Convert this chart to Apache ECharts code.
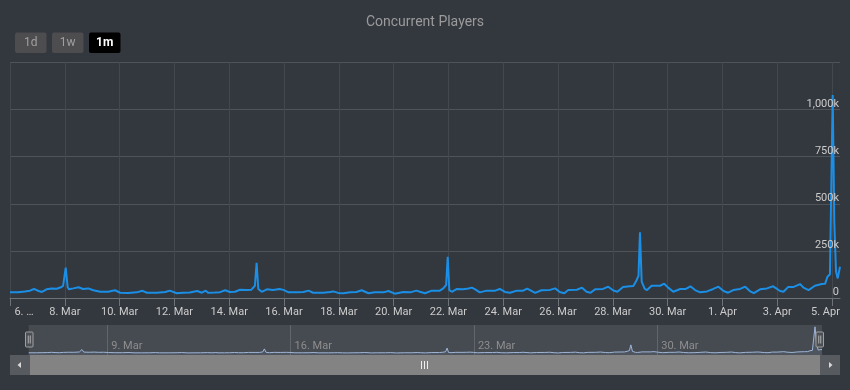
<!DOCTYPE html>
<html><head><meta charset="utf-8">
<script src="https://cdn.jsdelivr.net/npm/echarts@6/dist/echarts.min.js"></script>
<style>html,body{margin:0;padding:0;background:#33373e;}#c{width:850px;height:390px;}</style>
</head><body><div id="c"></div>
<script>
// hours since 6 Mar 00:00, concurrent players in thousands
const players = [[0,30],[7,30],[13,35],[17.5,39],[21,48],[25,37],[28,32],[32,46],[36.5,51],[41,49],[44.5,57],[46.5,64],[48.8,161],[50.5,57],[51.7,46],[55.5,51],[60,57],[64,48],[68.5,51],[73,41],[79,33],[86,33],[92,41],[96.5,28],[103.5,27],[111,30],[116,38],[120,28],[128.5,28],[136,32],[140,39],[146,25],[151.5,28],[157.5,29],[164,37],[168,28],[171.5,39],[173.5,28],[179.5,29],[184,31],[188.5,41],[192.5,32],[197,33],[201.5,44],[207.5,43],[211.5,44],[214.5,65],[216,187],[217.5,48],[220.5,33],[225,46],[230.5,43],[236,48],[239.5,43],[244,30],[251,30],[257,32],[261.5,39],[265.5,28],[274.5,28],[280.5,32],[283,35],[287.5,27],[292,25],[298,30],[303.5,32],[308,41],[314,25],[319.5,30],[327,30],[331.5,37],[337,23],[344.5,32],[350.5,30],[356,39],[359,33],[363.5,25],[369.5,39],[376.5,39],[379.5,51],[382,69],[383.4,219],[384.8,42],[387,33],[391.5,48],[397,46],[401.5,50],[404.5,55],[407.5,46],[411.5,30],[417.5,39],[425,39],[429,48],[433.5,32],[438,28],[444,39],[449.5,39],[453,50],[460,27],[465.5,41],[473,43],[477.5,51],[481.5,32],[485.5,25],[489,42],[496.5,44],[501,55],[505,33],[508.5,28],[512.5,46],[519.5,48],[524,60],[528.5,40],[532,33],[537,58],[543,62],[546,64],[548.5,90],[550.5,118],[551.8,349],[553.3,87],[556,48],[558,42],[562,65],[569.5,65],[573,76],[576.5,55],[581,33],[587,48],[592,48],[596,62],[600,42],[604.5,30],[610.5,35],[616,48],[620.5,60],[625,37],[629,28],[633.5,42],[639.5,48],[644,60],[648,37],[651.5,26],[657,46],[663,51],[668.5,62],[674.5,37],[677.5,33],[681.5,58],[686,58],[692,74],[695,55],[699.5,42],[705,65],[711,74],[714,76],[716,113],[718.2,126],[720.6,1077],[722,405],[723.5,140],[725,104],[727,166]];
const xTickHours = [0,48,96,144,192,240,288,336,384,432,480,528,576,624,672,720];
const xTickLabels = ['6. …','8. Mar','10. Mar','12. Mar','14. Mar','16. Mar','18. Mar','20. Mar','22. Mar','24. Mar','26. Mar','28. Mar','30. Mar','1. Apr','3. Apr','5. Apr'];
const yTicks = [0,250,500,750,1000,1250];
const yTickLabels = ['0','250k','500k','750k','1,000k',''];
const navTickHours = [72,240,408,576];
const navTickLabels = ['9. Mar','16. Mar','23. Mar','30. Mar'];
const rangeButtons = ['1d','1w','1m'];
const selectedButton = '1m';

const FONT = 'Roboto, sans-serif';
const chart = echarts.init(document.getElementById('c'), null, {renderer:'canvas'});

const btnX = [15, 52, 89];
const graphics = [];
rangeButtons.forEach((b, i) => {
  const sel = b === selectedButton;
  graphics.push({type:'rect', shape:{x:btnX[i], y:32.5, width:31.5, height:20.5, r:2}, style:{fill: sel ? '#000000' : '#4d4d4f'}});
  graphics.push({type:'text', style:{text:b, x:btnX[i]+15.75, y:43, align:'center', verticalAlign:'middle', textAlign:'center', textVerticalAlign:'middle', fill: sel ? '#ffffff' : '#a0a0a0', font:(sel?'bold ':'')+'12px '+FONT}});
});
// navigator handles
[[25.5],[816]].forEach(([hx]) => {
  graphics.push({type:'rect', z:100, shape:{x:hx, y:332, width:7.5, height:15, r:1}, style:{fill:'#4b4f56', stroke:'#a0a0a0', lineWidth:1}});
  graphics.push({type:'line', z:101, shape:{x1:hx+2.75, y1:335.5, x2:hx+2.75, y2:343.5}, style:{stroke:'#b0b0b0', lineWidth:1}});
  graphics.push({type:'line', z:101, shape:{x1:hx+4.75, y1:335.5, x2:hx+4.75, y2:343.5}, style:{stroke:'#b0b0b0', lineWidth:1}});
});
// scrollbar
graphics.push({type:'rect', shape:{x:10, y:355, width:20, height:20}, style:{fill:'#575a5f'}});
graphics.push({type:'polygon', shape:{points:[[21,362],[21,368],[17.5,365]]}, style:{fill:'#d8d8d8'}});
graphics.push({type:'rect', shape:{x:30, y:355, width:790, height:20}, style:{fill:'#838383'}});
graphics.push({type:'rect', shape:{x:820, y:355, width:20, height:20}, style:{fill:'#575a5f'}});
graphics.push({type:'polygon', shape:{points:[[829,362],[829,368],[832.5,365]]}, style:{fill:'#d8d8d8'}});
[421.5, 424.5, 427.5].forEach(gx => {
  graphics.push({type:'line', shape:{x1:gx, y1:361, x2:gx, y2:369}, style:{stroke:'#eeeeee', lineWidth:1}});
});

const yLabelFormatter = v => { const i = yTicks.indexOf(v); return i < 0 ? '' : yTickLabels[i]; };

const option = {
  backgroundColor: '#33373e',
  animation: false,
  title: {text:'Concurrent Players', left:'center', top:10, textStyle:{color:'#9b9b9b', fontSize:14, fontWeight:'normal', fontFamily:FONT}},
  grid: [
    {left:10, right:10, top:62.5, height:235.5, containLabel:false, outerBoundsMode:'none'},
    {left:28.7, top:325, width:793.3, height:30, show:true, backgroundColor:'#464a51', borderWidth:0, containLabel:false, outerBoundsMode:'none'}
  ],
  xAxis: [
    {type:'value', gridIndex:0, min:0, max:727,
     axisLine:{show:true, lineStyle:{color:'#6e7177', width:1}},
     axisTick:{show:true, length:8, customValues:xTickHours, lineStyle:{color:'#6e7177'}},
     axisLabel:{customValues:xTickHours, color:'#cccccc', fontSize:11, fontFamily:FONT, margin:9,
       formatter: v => {
         const i = xTickHours.indexOf(v);
         if (i < 0) return '';
         if (i === 0) return '{first|' + xTickLabels[i] + '}';
         if (i === xTickLabels.length - 1) return '{last|' + xTickLabels[i] + '}';
         return xTickLabels[i];
       },
       rich:{
         first:{padding:[0,0,0,28], color:'#cccccc', fontSize:11, fontFamily:FONT},
         last:{padding:[0,13,0,0], color:'#cccccc', fontSize:11, fontFamily:FONT}
       }},
     splitLine:{show:true, lineStyle:{color:'#43474e', width:1}}
    },
    {type:'value', gridIndex:1, min:0, max:727,
     axisLine:{show:false},
     axisTick:{show:false, customValues:navTickHours},
     axisLabel:{inside:true, customValues:navTickHours, color:'#8e8e8e', fontSize:11, fontFamily:FONT, margin:3, align:'left', padding:[0,0,0,4],
       formatter: v => { const i = navTickHours.indexOf(v); return i < 0 ? '' : navTickLabels[i]; }},
     splitLine:{show:true, lineStyle:{color:'#62666c', width:1}}
    }
  ],
  yAxis: [
    {type:'value', gridIndex:0, position:'right', min:0, max:1250, interval:250,
     axisLine:{show:false}, axisTick:{show:false}, axisLabel:{show:false},
     splitLine:{show:true, lineStyle:{color:'#4f535a', width:1}}
    },
    {type:'value', gridIndex:1, min:-60, max:1150, show:false, splitLine:{show:false}},
    {type:'value', gridIndex:0, position:'right', min:0, max:1250, interval:250, z:10,
     axisLine:{show:false}, axisTick:{show:false}, splitLine:{show:false},
     axisLabel:{inside:true, margin:1, verticalAlign:'bottom', color:'#cccccc', fontSize:11, fontFamily:FONT,
       formatter: yLabelFormatter}
    }
  ],
  series: [
    {type:'line', xAxisIndex:0, yAxisIndex:0, data:players, showSymbol:false, symbol:'none',
     lineStyle:{width:2, color:'#1b8fe6'}, itemStyle:{color:'#1b8fe6'}, z:5},
    {type:'line', xAxisIndex:1, yAxisIndex:1, data:players, showSymbol:false, symbol:'none',
     lineStyle:{width:1, color:'#9db5d8'}, itemStyle:{color:'#9db5d8'},
     areaStyle:{origin:'start', color:'rgba(140,165,200,0.18)'}, z:5}
  ],
  graphic: graphics
};
chart.setOption(option);
</script>
</body></html>
